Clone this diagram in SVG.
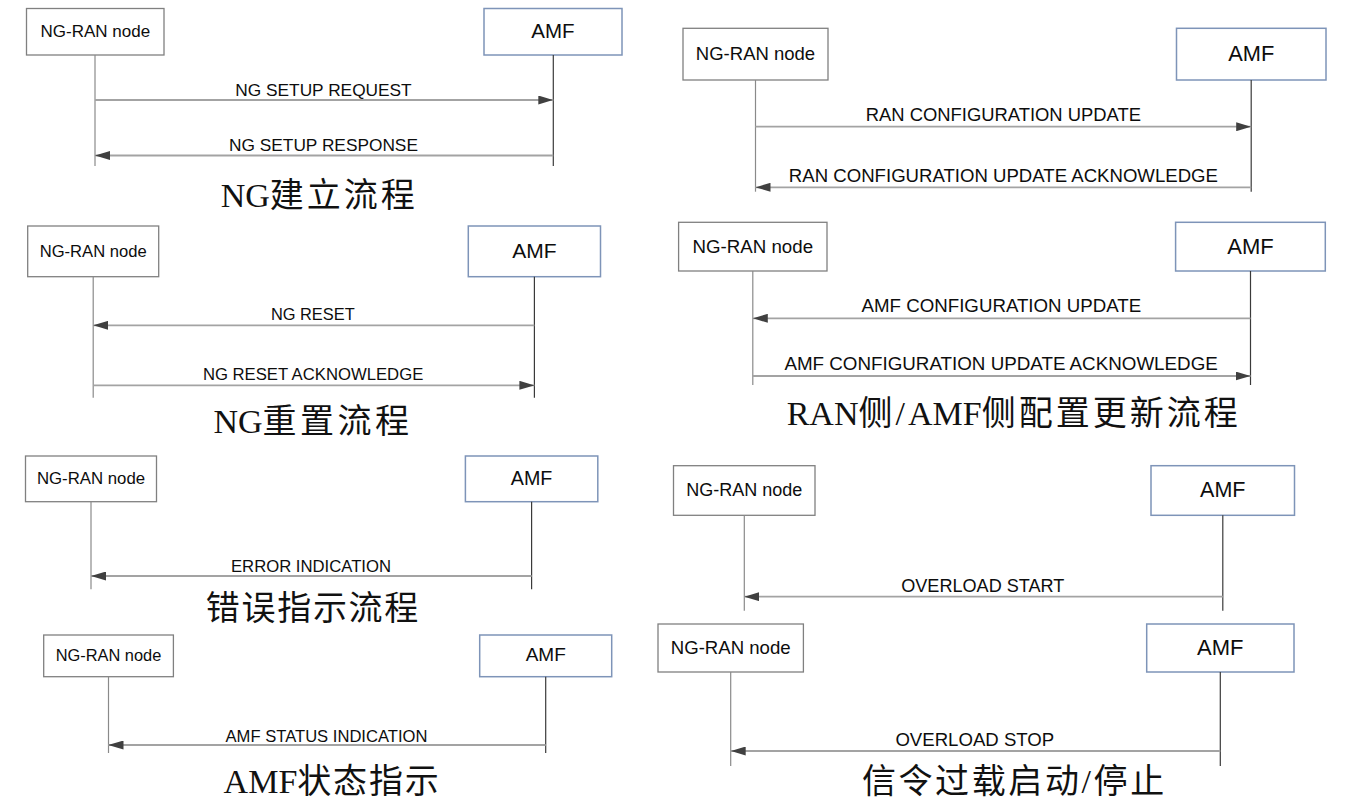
<svg xmlns="http://www.w3.org/2000/svg" width="1346" height="810" viewBox="0 0 1346 810">
<style>
.bg{fill:#ffffff}
.nbox{fill:#ffffff;stroke:#808080;stroke-width:1.3}
.abox{fill:#ffffff;stroke:#7e94b8;stroke-width:1.5}
.nt{font-family:"Liberation Sans",Arial,sans-serif;fill:#0d0d0d;text-anchor:middle}
.nlife{stroke:#8a8a8a;stroke-width:1.2}
.alife{stroke:#3a3a3a;stroke-width:1.2}
.msg{stroke:#a3a3a3;stroke-width:1.8;fill:none;marker-end:url(#ah)}
.lbl{font-family:"Liberation Sans",Arial,sans-serif;fill:#0d0d0d;text-anchor:middle}
.ttl{font-family:"Liberation Serif","Noto Sans CJK SC",serif;fill:#111111;font-size:34px}
</style>
<defs>
<marker id="ah" markerUnits="userSpaceOnUse" markerWidth="15" markerHeight="9" refX="15" refY="4.5" orient="auto">
<path d="M0,0 L15,4.5 L0,9 z" fill="#404040"/>
</marker>
</defs>
<rect class="bg" x="0" y="0" width="1346" height="810"/>

<!-- Diagram 1: NG setup -->
<g id="d1-ngran">
<rect class="nbox" x="26.5" y="8.5" width="137.5" height="46.5"/>
<text class="nt" x="95.3" y="37" font-size="17">NG-RAN node</text>
<line class="nlife" x1="95" y1="55" x2="95" y2="166"/>
</g>
<g id="d1-amf">
<rect class="abox" x="484" y="8.5" width="138" height="46.5"/>
<text class="nt" x="553" y="38" font-size="20.5">AMF</text>
<line class="alife" x1="553.3" y1="55" x2="553.3" y2="166"/>
</g>

<!-- Diagram 2: RAN configuration update -->
<g id="d2-ngran">
<rect class="nbox" x="683" y="28.3" width="145" height="51.7"/>
<text class="nt" x="755.5" y="60" font-size="18.5">NG-RAN node</text>
<line class="nlife" x1="755.5" y1="80" x2="755.5" y2="191.7"/>
</g>
<g id="d2-amf">
<rect class="abox" x="1176.5" y="28.3" width="149.5" height="51.7"/>
<text class="nt" x="1251.2" y="61" font-size="21.8">AMF</text>
<line class="alife" x1="1251.2" y1="80" x2="1251.2" y2="191.7"/>
</g>

<!-- Diagram 3: AMF configuration update -->
<g id="d3-ngran">
<rect class="nbox" x="678.6" y="222.3" width="148.4" height="48.7"/>
<text class="nt" x="752.8" y="252.5" font-size="18.7">NG-RAN node</text>
<line class="nlife" x1="752.8" y1="271" x2="752.8" y2="385"/>
</g>
<g id="d3-amf">
<rect class="abox" x="1175.6" y="222.3" width="149.7" height="48.7"/>
<text class="nt" x="1250.5" y="253.5" font-size="22">AMF</text>
<line class="alife" x1="1250.5" y1="271" x2="1250.5" y2="385"/>
</g>

<!-- Diagram 4: NG reset -->
<g id="d4-ngran">
<rect class="nbox" x="27.7" y="226" width="131" height="50.7"/>
<text class="nt" x="93.2" y="256.5" font-size="16.6">NG-RAN node</text>
<line class="nlife" x1="93.2" y1="276.7" x2="93.2" y2="397.7"/>
</g>
<g id="d4-amf">
<rect class="abox" x="468.3" y="226" width="132.2" height="50.7"/>
<text class="nt" x="534.4" y="258" font-size="21">AMF</text>
<line class="alife" x1="534.4" y1="276.7" x2="534.4" y2="397.7"/>
</g>

<!-- Diagram 5: Error indication -->
<g id="d5-ngran">
<rect class="nbox" x="25.5" y="456" width="131" height="45.7"/>
<text class="nt" x="91" y="484" font-size="16.8">NG-RAN node</text>
<line class="nlife" x1="91" y1="501.7" x2="91" y2="589.3"/>
</g>
<g id="d5-amf">
<rect class="abox" x="465.4" y="456" width="132.4" height="45.7"/>
<text class="nt" x="531.6" y="485" font-size="19.7">AMF</text>
<line class="alife" x1="531.6" y1="501.7" x2="531.6" y2="589.3"/>
</g>

<!-- Diagram 6: AMF status indication -->
<g id="d6-ngran">
<rect class="nbox" x="43.7" y="635" width="129.7" height="41.7"/>
<text class="nt" x="108.5" y="661" font-size="16.4">NG-RAN node</text>
<line class="nlife" x1="108.5" y1="676.7" x2="108.5" y2="753"/>
</g>
<g id="d6-amf">
<rect class="abox" x="479.7" y="635" width="132" height="41.7"/>
<text class="nt" x="545.7" y="661" font-size="19">AMF</text>
<line class="alife" x1="545.7" y1="676.7" x2="545.7" y2="753"/>
</g>

<!-- Diagram 7: Overload start -->
<g id="d7-ngran">
<rect class="nbox" x="673.5" y="465.7" width="141.5" height="49.6"/>
<text class="nt" x="744.3" y="496" font-size="18">NG-RAN node</text>
<line class="nlife" x1="744.3" y1="515.3" x2="744.3" y2="610.7"/>
</g>
<g id="d7-amf">
<rect class="abox" x="1151" y="465.7" width="143.5" height="49.6"/>
<text class="nt" x="1222.8" y="497" font-size="21.5">AMF</text>
<line class="alife" x1="1222.8" y1="515.3" x2="1222.8" y2="610.7"/>
</g>

<!-- Diagram 8: Overload stop -->
<g id="d8-ngran">
<rect class="nbox" x="658" y="624" width="145.4" height="48"/>
<text class="nt" x="730.7" y="653.5" font-size="18.6">NG-RAN node</text>
<line class="nlife" x1="730.7" y1="672" x2="730.7" y2="766"/>
</g>
<g id="d8-amf">
<rect class="abox" x="1146.7" y="624" width="147.3" height="48"/>
<text class="nt" x="1220.3" y="654.5" font-size="22">AMF</text>
<line class="alife" x1="1220.3" y1="672" x2="1220.3" y2="766"/>
</g>

<!-- Connectors -->
<g id="connectors">
<line class="msg" x1="95" y1="100" x2="553.3" y2="100"/>
<text class="lbl" x="323.5" y="95.5" font-size="17.3">NG SETUP REQUEST</text>
<line class="msg" x1="553.3" y1="155.5" x2="95" y2="155.5"/>
<text class="lbl" x="323.5" y="150.5" font-size="17.3">NG SETUP RESPONSE</text>

<line class="msg" x1="755.5" y1="126.7" x2="1251.2" y2="126.7"/>
<text class="lbl" x="1003.4" y="121" font-size="18.4">RAN CONFIGURATION UPDATE</text>
<line class="msg" x1="1251.2" y1="187.3" x2="755.5" y2="187.3"/>
<text class="lbl" x="1003.4" y="181.5" font-size="18.6">RAN CONFIGURATION UPDATE ACKNOWLEDGE</text>

<line class="msg" x1="1250.5" y1="318.3" x2="752.8" y2="318.3"/>
<text class="lbl" x="1001.4" y="312" font-size="18.7">AMF CONFIGURATION UPDATE</text>
<line class="msg" x1="752.8" y1="376" x2="1250.5" y2="376"/>
<text class="lbl" x="1001.1" y="370" font-size="18.8">AMF CONFIGURATION UPDATE ACKNOWLEDGE</text>

<line class="msg" x1="534.4" y1="325.3" x2="93.2" y2="325.3"/>
<text class="lbl" x="312.8" y="320" font-size="16.4">NG RESET</text>
<line class="msg" x1="93.2" y1="385.3" x2="534.4" y2="385.3"/>
<text class="lbl" x="313.1" y="380" font-size="16.7">NG RESET ACKNOWLEDGE</text>

<line class="msg" x1="531.6" y1="576" x2="91" y2="576"/>
<text class="lbl" x="311" y="571.5" font-size="16.7">ERROR INDICATION</text>

<line class="msg" x1="545.7" y1="745" x2="108.5" y2="745"/>
<text class="lbl" x="326.5" y="741.5" font-size="16.6">AMF STATUS INDICATION</text>

<line class="msg" x1="1222.8" y1="596.7" x2="744.3" y2="596.7"/>
<text class="lbl" x="982.8" y="592.3" font-size="18.1">OVERLOAD START</text>

<line class="msg" x1="1220.3" y1="751" x2="730.7" y2="751"/>
<text class="lbl" x="974.8" y="746" font-size="18.6">OVERLOAD STOP</text>
</g>

<!-- Titles -->
<g id="titles">
<text class="ttl" x="220.7" y="206.5"><tspan>NG</tspan><tspan letter-spacing="3">建立流程</tspan></text>
<text class="ttl" x="213.5" y="433"><tspan>NG</tspan><tspan letter-spacing="3.5">重置流程</tspan></text>
<text class="ttl" x="786.7" y="425"><tspan>RAN</tspan><tspan letter-spacing="3">侧/</tspan><tspan>AMF</tspan><tspan letter-spacing="3">侧配置更新流程</tspan></text>
<text class="ttl" x="205.8" y="620" letter-spacing="1.7">错误指示流程</text>
<text class="ttl" x="223.6" y="793"><tspan>AMF</tspan><tspan letter-spacing="1.8">状态指示</tspan></text>
<text class="ttl" x="861.9" y="793" letter-spacing="2.6">信令过载启动/停止</text>
</g>
</svg>
